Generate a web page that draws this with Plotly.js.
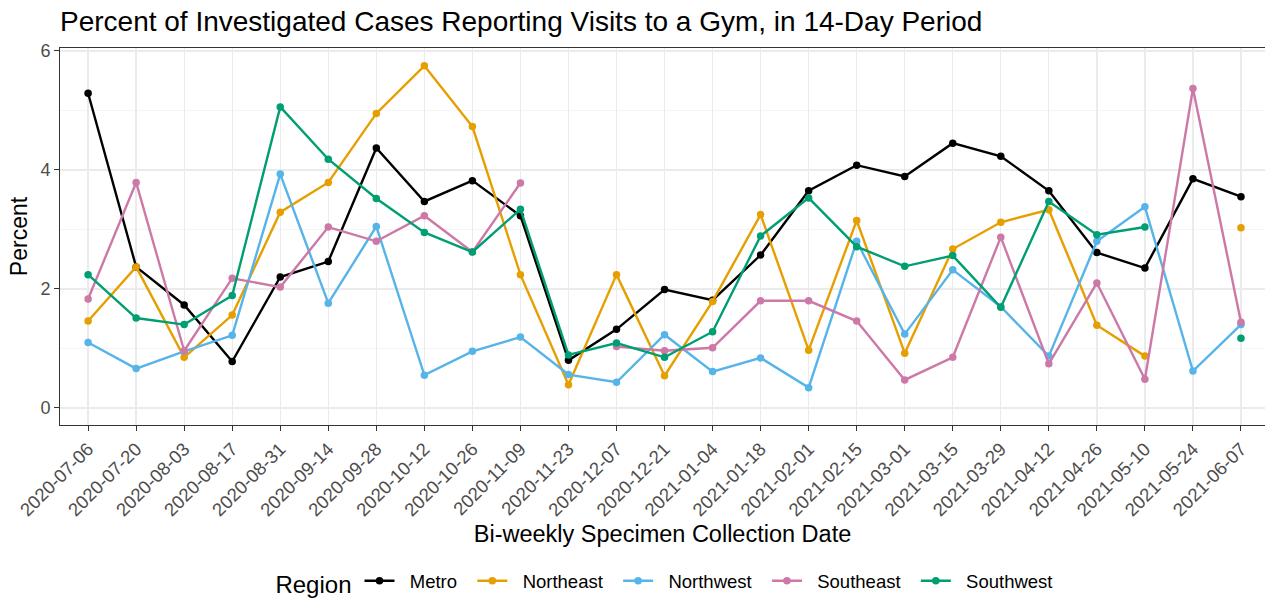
<!DOCTYPE html>
<html>
<head>
<meta charset="utf-8">
<script src="https://cdn.plot.ly/plotly-3.0.1.min.js"></script>
<style>html,body{margin:0;padding:0;background:#fff;}#chart{width:1265px;height:600px;}</style>
</head>
<body>
<div id="chart"></div>
<script>
var dates = ["2020-07-06","2020-07-20","2020-08-03","2020-08-17","2020-08-31","2020-09-14","2020-09-28","2020-10-12","2020-10-26","2020-11-09","2020-11-23","2020-12-07","2020-12-21","2021-01-04","2021-01-18","2021-02-01","2021-02-15","2021-03-01","2021-03-15","2021-03-29","2021-04-12","2021-04-26","2021-05-10","2021-05-24","2021-06-07"];

var metro     = [5.29,2.37,1.73,0.78,2.20,2.46,4.37,3.47,3.82,3.23,0.80,1.32,1.99,1.81,2.57,3.65,4.08,3.89,4.45,4.23,3.65,2.61,2.35,3.85,3.55];
var northeast = [1.46,2.37,0.85,1.56,3.29,3.79,4.95,5.75,4.73,2.24,0.39,2.24,0.54,1.79,3.25,0.97,3.15,0.92,2.67,3.12,3.33,1.39,0.87,null,3.03];
var northwest = [1.10,0.66,0.95,1.22,3.93,1.76,3.05,0.55,0.95,1.19,0.56,0.43,1.23,0.61,0.84,0.34,2.80,1.24,2.32,1.70,0.87,2.80,3.38,0.62,1.40];
var southeast = [1.83,3.79,0.96,2.18,2.03,3.04,2.80,3.23,2.62,3.78,null,1.03,0.96,1.01,1.80,1.80,1.46,0.47,0.85,2.87,0.74,2.10,0.48,5.37,1.44];
var southwest = [2.24,1.51,1.40,1.89,5.06,4.18,3.52,2.95,2.62,3.34,0.89,1.09,0.85,1.28,2.89,3.53,2.71,2.38,2.56,1.69,3.47,2.91,3.04,null,1.17];

var regions = ["Metro","Northeast","Northwest","Southeast","Southwest"];
var seriesValues = [metro, northeast, northwest, southeast, southwest];
var colors = ["#000000","#E69F00","#56B4E9","#CC79A7","#009E73"];

var pad = "\u00A0\u00A0";
var traces = regions.map(function(name, i){
  return {
    type: "scatter",
    mode: "lines+markers",
    name: pad + name + pad,
    x: dates,
    y: seriesValues[i],
    connectgaps: false,
    line: {color: colors[i], width: 2.4},
    marker: {color: colors[i], size: 7.5}
  };
});

var font = "'Liberation Sans', Arial, Helvetica, sans-serif";

var layout = {
  width: 1265,
  height: 600,
  paper_bgcolor: "#ffffff",
  plot_bgcolor: "#ffffff",
  font: {family: font, color: "#000000"},
  margin: {l: 60, r: 0, t: 48, b: 175},
  title: {
    text: "Percent of Investigated Cases Reporting Visits to a Gym, in 14-Day Period",
    font: {family: font, size: 28, color: "#000000"},
    xref: "paper", x: 0, xanchor: "left",
    yref: "container", y: 0.965, yanchor: "middle"
  },
  xaxis: {
    type: "category",
    categoryorder: "array",
    categoryarray: dates,
    range: [-0.585, 24.5],
    tickangle: -45,
    tickfont: {family: font, size: 18.5, color: "#4D4D4D"},
    ticks: "outside",
    ticklen: 5,
    tickwidth: 1,
    tickcolor: "#333333",
    showline: true,
    mirror: true,
    linecolor: "#333333",
    linewidth: 1,
    showgrid: true,
    gridcolor: "#EBEBEB",
    gridwidth: 1.3,
    zeroline: false,
    title: {text: "Bi-weekly Specimen Collection Date", font: {family: font, size: 23.5, color: "#000000"}, standoff: 6}
  },
  yaxis: {
    range: [-0.288, 6.05],
    tickvals: [0, 2, 4, 6],
    ticktext: ["0", "2", "4", "6"],
    tickfont: {family: font, size: 18, color: "#4D4D4D"},
    ticks: "outside",
    ticklen: 5,
    tickwidth: 1,
    tickcolor: "#333333",
    showline: true,
    mirror: false,
    linecolor: "#333333",
    linewidth: 1,
    showgrid: true,
    gridcolor: "#EBEBEB",
    gridwidth: 1.3,
    zeroline: false,
    minor: {tickvals: [1, 3, 5], showgrid: true, gridcolor: "#F2F2F2", gridwidth: 0.8, ticks: ""},
    title: {text: "Percent", font: {family: font, size: 23, color: "#000000"}, standoff: 6}
  },
  showlegend: true,
  legend: {
    orientation: "h",
    xref: "paper", x: 0.507, xanchor: "center",
    yref: "container", y: 0.028, yanchor: "middle",
    font: {family: font, size: 18.5, color: "#000000"},
    title: {text: "Region", side: "left", font: {family: font, size: 24, color: "#000000"}},
    itemwidth: 30,
    bgcolor: "rgba(0,0,0,0)"
  }
};

Plotly.newPlot("chart", traces, layout, {displayModeBar: false, staticPlot: true});
</script>
</body>
</html>
